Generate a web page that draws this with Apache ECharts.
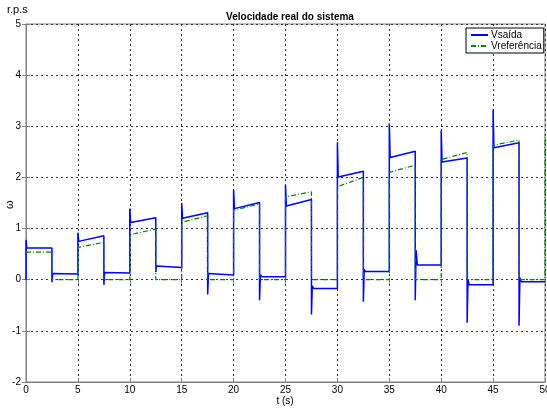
<!DOCTYPE html>
<html>
<head>
<meta charset="utf-8">
<script src="https://cdn.jsdelivr.net/npm/echarts@6/dist/echarts.min.js"></script>
<style>
  html, body { margin: 0; padding: 0; background: #fff; }
  #chart { width: 547px; height: 408px; }
</style>
</head>
<body>
<div id="chart"></div>
<script>
// period starts (s), each period: 2.5 s high, 2.5 s low
const periodStart = [0, 5, 10, 15, 20, 25, 30, 35, 40, 45];

// Vsaida (measured speed)
const vsaidaHighStart = [0.62, 0.75, 1.12, 1.20, 1.39, 1.44, 2.01, 2.39, 2.30, 2.58];
const vsaidaHighEnd   = [0.62, 0.86, 1.21, 1.31, 1.51, 1.57, 2.12, 2.51, 2.38, 2.68];
const vsaidaPeakUp    = [0.78, 0.92, 1.39, 1.50, 1.76, 1.85, 2.69, 3.06, 2.92, 3.33];
const vsaidaPeakDown  = [-0.05, -0.10, 0.15, -0.29, -0.40, -0.68, -0.43, -0.40, -0.84, -0.90];
const vsaidaBump      = [0.12, 0.14, 0.27, 0.12, 0.10, -0.12, 0.20, 0.58, 0.00, 0.04];
const vsaidaLow       = [0.11, 0.13, 0.24, 0.09, 0.06, -0.17, 0.16, 0.29, -0.10, -0.04];

// Vreferencia (reference)
const vrefHighStart = [0.54, 0.63, 0.88, 1.12, 1.36, 1.62, 1.82, 2.10, 2.35, 2.63];
const vrefHighEnd   = [0.54, 0.73, 0.99, 1.25, 1.48, 1.72, 2.00, 2.24, 2.49, 2.73];
const vrefFinal = 2.85;

const xTicks = [0, 50, 5];   // min, max, interval
const yTicks = [-2, 5, 1];

const saida = [[0, 0]];
const ref = [];
periodStart.forEach((t0, i) => {
  if (i > 0) saida.push([t0, vsaidaLow[i - 1]]);
  saida.push([t0, vsaidaPeakUp[i]]);
  saida.push([t0 + 0.08, vsaidaHighStart[i]]);
  saida.push([t0 + 2.5, vsaidaHighEnd[i]]);
  saida.push([t0 + 2.5, vsaidaPeakDown[i]]);
  saida.push([t0 + 2.58, vsaidaBump[i]]);
  saida.push([t0 + 2.7, vsaidaLow[i]]);
  saida.push([t0 + 5, vsaidaLow[i]]);

  ref.push([t0, i === 0 ? vrefHighStart[i] : 0]);
  ref.push([t0, vrefHighStart[i]]);
  ref.push([t0 + 2.5, vrefHighEnd[i]]);
  ref.push([t0 + 2.5, 0]);
  ref.push([t0 + 5, 0]);
});
ref.push([50, vrefFinal]);

const font = 'Liberation Sans, Arial, sans-serif';
const gridLine = { show: true, lineStyle: { color: '#333', type: [2, 3], width: 1 } };

const chart = echarts.init(document.getElementById('chart'), null, { renderer: 'canvas' });

chart.setOption({
  animation: false,
  backgroundColor: '#fff',
  title: {
    text: 'Velocidade real do sistema',
    left: 285, top: 7, textAlign: 'center',
    textStyle: { fontFamily: font, fontSize: 10, fontWeight: 'bold', color: '#000' },
  },
  graphic: [{
    type: 'text', left: 7, top: 4,
    style: { text: 'r.p.s', font: '11px ' + font, fill: '#000' },
  }, {
    type: 'text', x: 4, y: 209, rotation: Math.PI / 2,
    style: { text: 'ω', font: '11px ' + font, fill: '#000' },
  }, {
    type: 'text', x: 285, y: 396,
    style: { text: 't (s)', font: '10px ' + font, fill: '#000', align: 'center' },
  }],
  legend: {
    orient: 'vertical',
    left: 466, top: 28,
    itemWidth: 17, itemHeight: 8, itemGap: 1,
    padding: [2, 2, 2, 4],
    backgroundColor: '#fff',
    borderColor: '#000', borderWidth: 1,
    itemStyle: { opacity: 0 },
    textStyle: { fontFamily: font, fontSize: 10, color: '#000', padding: [0, 0, 0, -2] },
    data: ['Vsaída', 'Vreferência'],
  },
  grid: {
    left: 26, right: 2, top: 24, bottom: 26,
    containLabel: false, outerBoundsMode: 'none',
    show: true, borderColor: '#808080', borderWidth: 1,
  },
  xAxis: [{
    type: 'value', min: xTicks[0], max: xTicks[1], interval: xTicks[2],
    axisLine: { show: true, onZero: false, lineStyle: { color: '#808080' } },
    axisTick: { inside: true, length: 4, lineStyle: { color: '#808080' } },
    axisLabel: { fontFamily: font, fontSize: 10, color: '#000', margin: 3 },
    splitLine: gridLine,
  }, {
    type: 'value', position: 'top', min: xTicks[0], max: xTicks[1], interval: xTicks[2],
    axisLine: { show: false },
    axisTick: { inside: true, length: 4, lineStyle: { color: '#808080' } },
    axisLabel: { show: false }, splitLine: { show: false },
  }],
  yAxis: [{
    type: 'value', min: yTicks[0], max: yTicks[1], interval: yTicks[2],
    axisLine: { show: true, onZero: false, lineStyle: { color: '#808080' } },
    axisTick: { inside: true, length: 4, lineStyle: { color: '#808080' } },
    axisLabel: { fontFamily: font, fontSize: 10, color: '#000', margin: 5 },
    splitLine: gridLine,
  }, {
    type: 'value', position: 'right', min: yTicks[0], max: yTicks[1], interval: yTicks[2],
    axisLine: { show: false },
    axisTick: { inside: true, length: 4, lineStyle: { color: '#808080' } },
    axisLabel: { show: false }, splitLine: { show: false },
  }],
  series: [{
    name: 'Vsaída', type: 'line', data: saida,
    symbol: 'none', lineStyle: { color: '#0000ff', width: 1.5 },
    itemStyle: { color: '#0000ff' }, z: 3,
  }, {
    name: 'Vreferência', type: 'line', data: ref,
    symbol: 'none', lineStyle: { color: '#008000', width: 1.2, type: [5, 2, 1, 2] },
    itemStyle: { color: '#008000' }, z: 4,
  }],
});
</script>
</body>
</html>
